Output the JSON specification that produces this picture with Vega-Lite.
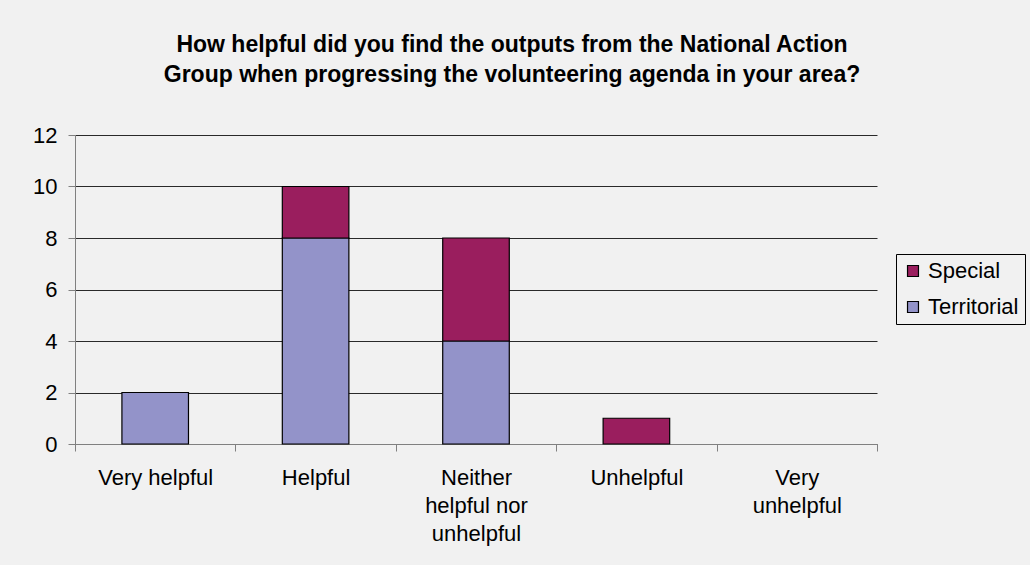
{
  "$schema": "https://vega.github.io/schema/vega-lite/v6.json",
  "width": 802,
  "height": 309,
  "autosize": {"type": "none"},
  "padding": {"left": 75, "top": 135, "right": 153, "bottom": 121},
  "background": "#f1f1f1",
  "title": {
    "text": ["How helpful did you find the outputs from the National Action", "Group when progressing the volunteering agenda in your area?"],
    "font": "Liberation Sans",
    "fontSize": 23,
    "fontWeight": "bold",
    "color": "#000000",
    "anchor": "middle",
    "dx": 36,
    "offset": 37,
    "lineHeight": 30
  },
  "data": {
    "values": [
      {"category": "Very helpful", "series": "Territorial", "count": 2},
      {"category": "Very helpful", "series": "Special", "count": 0},
      {"category": "Helpful", "series": "Territorial", "count": 8},
      {"category": "Helpful", "series": "Special", "count": 2},
      {"category": "Neither helpful nor unhelpful", "series": "Territorial", "count": 4},
      {"category": "Neither helpful nor unhelpful", "series": "Special", "count": 4},
      {"category": "Unhelpful", "series": "Territorial", "count": 0},
      {"category": "Unhelpful", "series": "Special", "count": 1},
      {"category": "Very unhelpful", "series": "Territorial", "count": 0},
      {"category": "Very unhelpful", "series": "Special", "count": 0}
    ]
  },
  "transform": [{"filter": "datum.count > 0"}],
  "mark": {"type": "bar", "stroke": "#000000", "strokeWidth": 1.2, "width": {"band": 0.415}},
  "encoding": {
    "x": {
      "field": "category",
      "type": "nominal",
      "sort": ["Very helpful", "Helpful", "Neither helpful nor unhelpful", "Unhelpful", "Very unhelpful"],
      "scale": {"domain": ["Very helpful", "Helpful", "Neither helpful nor unhelpful", "Unhelpful", "Very unhelpful"], "paddingInner": 0, "paddingOuter": 0},
      "axis": {
        "title": null,
        "labelAngle": 0,
        "labelExpr": "datum.value == 'Neither helpful nor unhelpful' ? ['Neither', 'helpful nor', 'unhelpful'] : datum.value == 'Very unhelpful' ? ['Very', 'unhelpful'] : datum.value",
        "labelFont": "Liberation Sans",
        "labelFontSize": 22,
        "labelColor": "#000000",
        "labelLineHeight": 28,
        "labelPadding": 16,
        "labelBaseline": "top",
        "tickBand": "extent",
        "tickSize": 7,
        "tickColor": "#808080",
        "domainColor": "#808080",
        "grid": false
      }
    },
    "y": {
      "field": "count",
      "type": "quantitative",
      "stack": "zero",
      "scale": {"domain": [0, 12], "nice": false},
      "axis": {
        "title": null,
        "values": [0, 2, 4, 6, 8, 10, 12],
        "labelFont": "Liberation Sans",
        "labelFontSize": 22,
        "labelColor": "#000000",
        "labelPadding": 11,
        "tickSize": 7,
        "tickColor": "#808080",
        "domainColor": "#808080",
        "grid": true,
        "gridColor": "#2a2a2a",
        "gridWidth": 1
      }
    },
    "color": {
      "field": "series",
      "type": "nominal",
      "scale": {"domain": ["Special", "Territorial"], "range": ["#9a1e5e", "#9393c9"]},
      "legend": {
        "title": null,
        "orient": "none",
        "legendX": 821,
        "legendY": 119,
        "strokeColor": "#000000",
        "fillColor": "#f1f1f1",
        "padding": 6,
        "rowPadding": 14,
        "symbolType": "square",
        "symbolSize": 120,
        "symbolStrokeColor": "#000000",
        "symbolStrokeWidth": 1.2,
        "symbolOpacity": 1,
        "labelFont": "Liberation Sans",
        "labelFontSize": 22,
        "labelColor": "#000000",
        "labelOffset": 4
      }
    },
    "order": {"field": "series", "sort": "descending"}
  },
  "config": {"view": {"stroke": null}}
}
